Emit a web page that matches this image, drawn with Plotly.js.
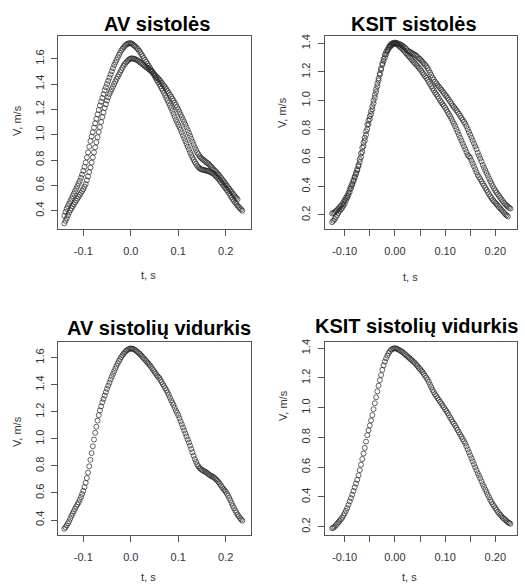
<!DOCTYPE html>
<html><head><meta charset="utf-8">
<script src="https://cdn.plot.ly/plotly-3.0.1.min.js"></script>
<style>html,body{margin:0;padding:0;background:#fff;} #chart{width:525px;height:584px;}</style>
</head><body><div id="chart"></div>
<script>
// ---- data ----
const tAV = [
  -0.14,-0.1375,-0.135,-0.1325,-0.13,-0.1275,-0.125,-0.1225,-0.12,-0.1175,
  -0.115,-0.1125,-0.11,-0.1075,-0.105,-0.1025,-0.1,-0.0975,-0.095,-0.0925,
  -0.09,-0.0875,-0.085,-0.0825,-0.08,-0.0775,-0.075,-0.0725,-0.07,-0.0675,
  -0.065,-0.0625,-0.06,-0.0575,-0.055,-0.0525,-0.05,-0.0475,-0.045,-0.0425,
  -0.04,-0.0375,-0.035,-0.0325,-0.03,-0.0275,-0.025,-0.0225,-0.02,-0.0175,
  -0.015,-0.0125,-0.01,-0.0075,-0.005,-0.0025,0,0.0025,0.005,0.0075,
  0.01,0.0125,0.015,0.0175,0.02,0.0225,0.025,0.0275,0.03,0.0325,
  0.035,0.0375,0.04,0.0425,0.045,0.0475,0.05,0.0525,0.055,0.0575,
  0.06,0.0625,0.065,0.0675,0.07,0.0725,0.075,0.0775,0.08,0.0825,
  0.085,0.0875,0.09,0.0925,0.095,0.0975,0.1,0.1025,0.105,0.1075,
  0.11,0.1125,0.115,0.1175,0.12,0.1225,0.125,0.1275,0.13,0.1325,
  0.135,0.1375,0.14,0.1425,0.145,0.1475,0.15,0.1525,0.155,0.1575,
  0.16,0.1625,0.165,0.1675,0.17,0.1725,0.175,0.1775,0.18,0.1825,
  0.185,0.1875,0.19,0.1925,0.195,0.1975,0.2,0.2025,0.205,0.2075,
  0.21,0.2125,0.215,0.2175,0.22,0.2225,0.225,0.2275,0.23,0.2325,
  0.235];
const avSys1 = [
  0.36,0.39,0.415,0.435,0.455,0.475,0.495,0.515,0.535,0.555,
  0.575,0.595,0.615,0.635,0.66,0.685,0.715,0.745,0.78,0.82,
  0.86,0.905,0.95,0.985,1.02,1.055,1.09,1.125,1.16,1.195,
  1.23,1.26,1.29,1.32,1.35,1.375,1.40,1.425,1.45,1.475,
  1.50,1.525,1.55,1.57,1.59,1.61,1.63,1.648,1.665,1.678,
  1.69,1.70,1.71,1.716,1.72,1.722,1.722,1.718,1.71,1.703,
  1.695,1.685,1.675,1.663,1.65,1.635,1.62,1.605,1.59,1.575,
  1.56,1.545,1.53,1.515,1.50,1.483,1.465,1.448,1.43,1.415,
  1.40,1.383,1.365,1.348,1.33,1.31,1.29,1.27,1.25,1.23,
  1.21,1.188,1.165,1.143,1.12,1.10,1.08,1.06,1.04,1.018,
  0.995,0.973,0.95,0.928,0.905,0.883,0.86,0.84,0.82,0.802,
  0.785,0.77,0.755,0.744,0.735,0.729,0.725,0.722,0.72,0.718,
  0.715,0.713,0.71,0.705,0.70,0.695,0.69,0.68,0.67,0.66,
  0.65,0.638,0.625,0.613,0.60,0.588,0.575,0.563,0.55,0.535,
  0.52,0.505,0.49,0.478,0.465,0.453,0.44,0.43,0.42,0.41,
  0.40];
const avSys2 = [
  0.30,0.32,0.34,0.363,0.385,0.403,0.42,0.435,0.45,0.465,
  0.48,0.495,0.51,0.525,0.54,0.555,0.57,0.59,0.61,0.64,
  0.67,0.705,0.74,0.78,0.82,0.86,0.90,0.94,0.98,1.02,
  1.06,1.10,1.14,1.175,1.21,1.24,1.27,1.295,1.32,1.34,
  1.36,1.38,1.40,1.42,1.44,1.458,1.475,1.493,1.51,1.528,
  1.545,1.558,1.57,1.58,1.59,1.597,1.60,1.603,1.60,1.598,
  1.595,1.59,1.585,1.578,1.57,1.563,1.555,1.548,1.54,1.533,
  1.525,1.518,1.51,1.503,1.495,1.485,1.475,1.465,1.455,1.445,
  1.435,1.423,1.41,1.398,1.385,1.373,1.36,1.345,1.33,1.315,
  1.30,1.285,1.27,1.253,1.235,1.218,1.20,1.18,1.16,1.14,
  1.12,1.10,1.08,1.058,1.035,1.013,0.99,0.968,0.945,0.923,
  0.90,0.88,0.86,0.845,0.83,0.82,0.81,0.803,0.795,0.788,
  0.78,0.773,0.765,0.755,0.745,0.735,0.725,0.715,0.705,0.695,
  0.685,0.673,0.66,0.648,0.635,0.623,0.61,0.598,0.585,0.573,
  0.56,0.548,0.535,0.523,0.51,0.50,0.49];
const avMean = [
  0.335,0.347,0.36,0.375,0.39,0.41,0.43,0.448,0.465,0.483,
  0.50,0.515,0.53,0.55,0.57,0.592,0.615,0.643,0.675,0.71,
  0.75,0.797,0.845,0.895,0.945,0.995,1.045,1.09,1.135,1.175,
  1.21,1.24,1.27,1.295,1.32,1.345,1.37,1.393,1.415,1.438,
  1.46,1.48,1.50,1.52,1.54,1.558,1.575,1.59,1.605,1.618,
  1.63,1.64,1.65,1.656,1.662,1.666,1.668,1.667,1.665,1.66,
  1.655,1.648,1.64,1.633,1.625,1.615,1.605,1.595,1.585,1.575,
  1.565,1.555,1.545,1.533,1.52,1.508,1.495,1.483,1.47,1.46,
  1.45,1.435,1.42,1.405,1.39,1.375,1.36,1.343,1.325,1.305,
  1.285,1.268,1.25,1.23,1.21,1.193,1.175,1.153,1.13,1.108,
  1.085,1.063,1.04,1.018,0.995,0.973,0.95,0.925,0.90,0.875,
  0.85,0.83,0.81,0.797,0.785,0.777,0.77,0.765,0.76,0.755,
  0.75,0.743,0.735,0.73,0.725,0.72,0.715,0.708,0.70,0.69,
  0.68,0.668,0.655,0.643,0.63,0.62,0.61,0.595,0.58,0.563,
  0.545,0.525,0.505,0.488,0.47,0.455,0.44,0.428,0.415,0.405,
  0.395];

const tKS = [
  -0.125,-0.1225,-0.12,-0.1175,-0.115,-0.1125,-0.11,-0.1075,-0.105,-0.1025,
  -0.1,-0.0975,-0.095,-0.0925,-0.09,-0.0875,-0.085,-0.0825,-0.08,-0.0775,
  -0.075,-0.0725,-0.07,-0.0675,-0.065,-0.0625,-0.06,-0.0575,-0.055,-0.0525,
  -0.05,-0.0475,-0.045,-0.0425,-0.04,-0.0375,-0.035,-0.0325,-0.03,-0.0275,
  -0.025,-0.0225,-0.02,-0.0175,-0.015,-0.0125,-0.01,-0.0075,-0.005,-0.0025,
  0,0.0025,0.005,0.0075,0.01,0.0125,0.015,0.0175,0.02,0.0225,
  0.025,0.0275,0.03,0.0325,0.035,0.0375,0.04,0.0425,0.045,0.0475,
  0.05,0.0525,0.055,0.0575,0.06,0.0625,0.065,0.0675,0.07,0.0725,
  0.075,0.0775,0.08,0.0825,0.085,0.0875,0.09,0.0925,0.095,0.0975,
  0.1,0.1025,0.105,0.1075,0.11,0.1125,0.115,0.1175,0.12,0.1225,
  0.125,0.1275,0.13,0.1325,0.135,0.1375,0.14,0.1425,0.145,0.1475,
  0.15,0.1525,0.155,0.1575,0.16,0.1625,0.165,0.1675,0.17,0.1725,
  0.175,0.1775,0.18,0.1825,0.185,0.1875,0.19,0.1925,0.195,0.1975,
  0.2,0.2025,0.205,0.2075,0.21,0.2125,0.215,0.2175,0.22,0.2225,
  0.225,0.2275,0.23];
const ksSys1 = [
  0.15,0.16,0.17,0.185,0.20,0.215,0.23,0.24,0.25,0.265,
  0.28,0.30,0.32,0.34,0.36,0.385,0.41,0.435,0.46,0.485,
  0.51,0.54,0.57,0.605,0.64,0.68,0.72,0.76,0.80,0.835,
  0.87,0.905,0.94,0.98,1.02,1.06,1.10,1.14,1.18,1.215,
  1.25,1.275,1.30,1.323,1.345,1.36,1.375,1.383,1.39,1.395,
  1.40,1.397,1.39,1.383,1.375,1.368,1.36,1.35,1.34,1.33,
  1.32,1.31,1.30,1.29,1.28,1.27,1.26,1.25,1.24,1.23,
  1.22,1.208,1.195,1.183,1.17,1.158,1.145,1.13,1.115,1.10,
  1.085,1.07,1.055,1.043,1.03,1.015,1.00,0.988,0.975,0.963,
  0.95,0.935,0.92,0.905,0.89,0.873,0.855,0.838,0.82,0.80,
  0.78,0.76,0.74,0.72,0.70,0.68,0.66,0.64,0.62,0.61,
  0.60,0.58,0.56,0.54,0.52,0.50,0.48,0.465,0.45,0.435,
  0.42,0.405,0.39,0.375,0.36,0.345,0.33,0.318,0.305,0.295,
  0.285,0.275,0.265,0.255,0.245,0.235,0.225,0.215,0.205,0.198,
  0.19];
const ksSys2 = [
  0.21,0.215,0.22,0.228,0.235,0.245,0.255,0.265,0.275,0.29,
  0.305,0.32,0.335,0.355,0.38,0.40,0.42,0.445,0.47,0.495,
  0.52,0.55,0.59,0.63,0.67,0.705,0.74,0.785,0.83,0.86,
  0.89,0.925,0.96,1.00,1.04,1.08,1.12,1.155,1.19,1.225,
  1.26,1.29,1.32,1.34,1.355,1.372,1.385,1.395,1.40,1.403,
  1.405,1.403,1.40,1.397,1.393,1.388,1.383,1.377,1.37,1.36,
  1.35,1.345,1.34,1.335,1.33,1.325,1.32,1.313,1.305,1.295,
  1.29,1.28,1.27,1.26,1.25,1.24,1.228,1.212,1.195,1.178,
  1.16,1.146,1.132,1.12,1.108,1.098,1.087,1.076,1.064,1.053,
  1.04,1.03,1.018,1.005,0.992,0.98,0.965,0.955,0.945,0.932,
  0.92,0.907,0.893,0.879,0.865,0.851,0.838,0.82,0.80,0.78,
  0.76,0.74,0.72,0.70,0.68,0.66,0.635,0.615,0.595,0.575,
  0.55,0.532,0.513,0.494,0.475,0.456,0.437,0.42,0.402,0.385,
  0.37,0.357,0.345,0.333,0.32,0.308,0.296,0.285,0.275,0.266,
  0.258,0.25,0.245];
const ksMean = [
  0.19,0.193,0.20,0.21,0.22,0.23,0.24,0.25,0.26,0.275,
  0.29,0.307,0.325,0.347,0.37,0.392,0.415,0.44,0.465,0.49,
  0.515,0.545,0.58,0.617,0.655,0.692,0.73,0.772,0.815,0.848,
  0.88,0.915,0.95,0.99,1.03,1.07,1.11,1.148,1.185,1.22,
  1.255,1.285,1.31,1.332,1.35,1.367,1.38,1.39,1.395,1.399,
  1.40,1.398,1.395,1.39,1.385,1.38,1.375,1.368,1.36,1.353,
  1.345,1.338,1.33,1.323,1.315,1.308,1.30,1.29,1.28,1.27,
  1.26,1.25,1.24,1.228,1.215,1.203,1.19,1.173,1.155,1.138,
  1.12,1.105,1.09,1.078,1.065,1.053,1.04,1.028,1.015,1.003,
  0.99,0.978,0.965,0.95,0.935,0.92,0.905,0.893,0.88,0.865,
  0.85,0.835,0.82,0.805,0.79,0.775,0.76,0.74,0.72,0.70,
  0.68,0.66,0.64,0.62,0.60,0.58,0.56,0.543,0.525,0.505,
  0.485,0.468,0.45,0.433,0.415,0.398,0.38,0.365,0.35,0.338,
  0.325,0.313,0.30,0.29,0.28,0.27,0.26,0.253,0.245,0.238,
  0.23,0.225,0.22];

const titles = ['AV sistolės','KSIT sistolės','AV sistolių vidurkis','KSIT sistolių vidurkis'];
const xLabel = 't, s';
const yLabel = 'V, m/s';
const xTickValsAV = [-0.1,0,0.1,0.2];
const xTickTextAV = ['-0.1','0.0','0.1','0.2'];
const xTickValsKS = [-0.1,-0.05,0,0.05,0.1,0.15,0.2];
const xTickTextKS = ['-0.10','','0.00','','0.10','','0.20'];
const yTickValsAV = [0.4,0.6,0.8,1.0,1.2,1.4,1.6];
const yTickTextAV = ['0.4','0.6','0.8','1.0','1.2','1.4','1.6'];
const yTickValsKS = [0.2,0.4,0.6,0.8,1.0,1.2,1.4];
const yTickTextKS = ['0.2','0.4','0.6','0.8','1.0','1.2','1.4'];

// ---- drawing ----
const W = 525, H = 584;
const FONT = 'Liberation Sans, Arial, sans-serif';
const marker = {symbol:'circle-open', size:5, color:'#222', line:{width:0.7, color:'#222'}};
function tr(x, y, xa, ya){
  return {type:'scatter', mode:'markers', x:x, y:y, xaxis:xa, yaxis:ya, marker:marker, hoverinfo:'skip', showlegend:false, cliponaxis:true};
}
const data = [
  tr(tAV, avSys1, 'x', 'y'),
  tr(tAV.slice(0, avSys2.length), avSys2, 'x', 'y'),
  tr(tKS.slice(0, ksSys1.length), ksSys1, 'x2', 'y2'),
  tr(tKS, ksSys2, 'x2', 'y2'),
  tr(tAV, avMean, 'x3', 'y3'),
  tr(tKS, ksMean, 'x4', 'y4')
];

const px = v => v / W;
const py = v => 1 - v / H;
function axis(domain, range, anchor, tv, tt, extra){
  return Object.assign({
    domain: domain, range: range, anchor: anchor, autorange: false,
    showline: true, mirror: true, linecolor: '#555', linewidth: 1,
    ticks: 'outside', ticklen: 6, tickwidth: 1, tickcolor: '#555',
    showgrid: false, zeroline: false, fixedrange: true,
    tickmode: 'array', tickvals: tv, ticktext: tt,
    tickfont: {family: FONT, size: 11, color: '#333'}
  }, extra || {});
}
const xdL = [px(58.3), px(250.7)], xdR = [px(324.7), px(517.3)];
const ydT = [py(229.3), py(36)], ydB = [py(535.3), py(342)];
const xs = {ticklabelstandoff: 5};
const ys = {tickangle: -90, ticklabelstandoff: 3};

const layout = {
  width: W, height: H, autosize: false,
  margin: {l:0, r:0, t:0, b:0, pad:0},
  paper_bgcolor: '#fff', plot_bgcolor: '#fff',
  font: {family: FONT, color: '#000'},
  xaxis:  axis(xdL, [-0.1527, 0.2527], 'y',  xTickValsAV, xTickTextAV, xs),
  yaxis:  axis(ydT, [0.253, 1.779],   'x',  yTickValsAV, yTickTextAV, ys),
  xaxis2: axis(xdR, [-0.1398, 0.2438], 'y2', xTickValsKS, xTickTextKS, xs),
  yaxis2: axis(ydT, [0.100, 1.451],   'x2', yTickValsKS, yTickTextKS, ys),
  xaxis3: axis(xdL, [-0.1527, 0.2527], 'y3', xTickValsAV, xTickTextAV, xs),
  yaxis3: axis(ydB, [0.287, 1.716],   'x3', yTickValsAV, yTickTextAV, ys),
  xaxis4: axis(xdR, [-0.1398, 0.2438], 'y4', xTickValsKS, xTickTextKS, xs),
  yaxis4: axis(ydB, [0.142, 1.442],   'x4', yTickValsKS, yTickTextKS, ys),
  annotations: []
};
const titlePos = [[157, 24], [413.5, 24], [159, 327.5], [416, 326]];
titles.forEach((t, i) => {
  layout.annotations.push({text: t, xref:'paper', yref:'paper', x: px(titlePos[i][0]), y: py(titlePos[i][1]),
    xanchor:'center', yanchor:'middle', showarrow:false, font:{family: FONT, size: 20, color:'#000', weight: 'bold'}});
});
const xlabPos = [[148, 275], [410, 277], [148, 577], [409, 577]];
const ylabPos = [[17, 121], [282, 113], [17, 432], [283, 406]];
for (let i = 0; i < 4; i++) {
  layout.annotations.push({text: xLabel, xref:'paper', yref:'paper', x: px(xlabPos[i][0]), y: py(xlabPos[i][1]),
    xanchor:'center', yanchor:'middle', showarrow:false, font:{family: FONT, size: 11, color:'#333'}});
  layout.annotations.push({text: yLabel, xref:'paper', yref:'paper', x: px(ylabPos[i][0]), y: py(ylabPos[i][1]),
    xanchor:'center', yanchor:'middle', textangle: -90, showarrow:false, font:{family: FONT, size: 11, color:'#333'}});
}
Plotly.newPlot('chart', data, layout, {staticPlot: true, displayModeBar: false});
</script>
</body></html>
